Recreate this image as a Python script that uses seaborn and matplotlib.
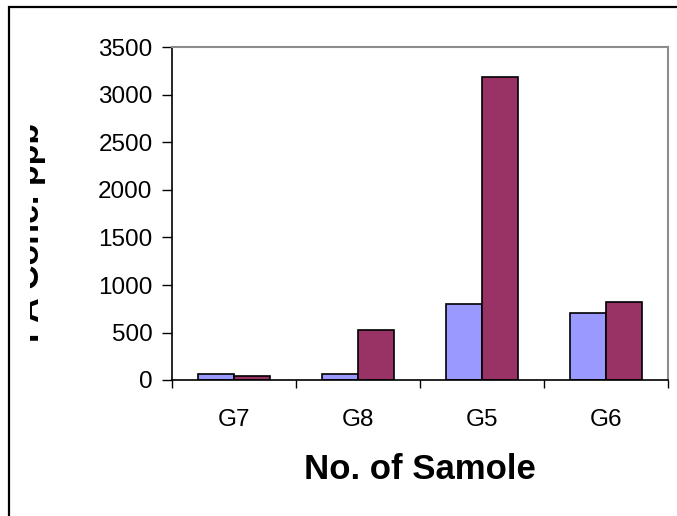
import numpy as np
import pandas as pd
import matplotlib
matplotlib.use("Agg")
import matplotlib.pyplot as plt
import seaborn as sns
from matplotlib.patches import Rectangle
from matplotlib.transforms import Bbox, TransformedBbox

# chart data
samples = ["G7", "G8", "G5", "G6"]
series_a = [65, 65, 800, 705]
series_b = [40, 530, 3190, 820]
series_names = ["Series1", "Series2"]
y_ticks = [0, 500, 1000, 1500, 2000, 2500, 3000, 3500]

df = pd.DataFrame({
    "sample": samples * 2,
    "conc": series_a + series_b,
    "series": [series_names[0]] * len(samples) + [series_names[1]] * len(samples),
})

sns.set_style("white")
plt.rcParams["font.family"] = ["Liberation Sans", "DejaVu Sans"]
plt.rcParams["text.color"] = "black"
plt.rcParams["axes.labelcolor"] = "black"
plt.rcParams["xtick.color"] = "black"
plt.rcParams["ytick.color"] = "black"

W, H = 677, 516
fig = plt.figure(figsize=(W / 100, H / 100), dpi=100)
ax = fig.add_axes([172 / W, (H - 380) / H, (668 - 172) / W, (380 - 47.5) / H])

sns.barplot(data=df, x="sample", y="conc", hue="series", order=samples,
            palette=["#9999FF", "#993366"], saturation=1, width=0.586,
            edgecolor="black", linewidth=1.2, errorbar=None, legend=False, ax=ax)

ax.set_xlim(-0.5, len(samples) - 0.5)
ax.set_ylim(0, 3500)
ax.set_yticks(y_ticks)
ax.set_xticks(range(len(samples)))
ax.set_xticklabels(samples)
ax.set_xticks(np.arange(-0.5, len(samples)), minor=True)

ax.tick_params(axis="y", which="major", direction="out", length=7, width=1,
               colors="black", labelsize=17.5, pad=7, left=True)
ax.tick_params(axis="x", which="major", length=0, labelsize=17.5, pad=21,
               colors="black")
ax.tick_params(axis="x", which="minor", direction="out", length=6, width=1,
               color="black", bottom=True)

for side in ["left", "bottom"]:
    ax.spines[side].set_color("black")
    ax.spines[side].set_linewidth(1.2)
for side in ["top", "right"]:
    ax.spines[side].set_visible(True)
    ax.spines[side].set_color("#8c8c8c")
    ax.spines[side].set_linewidth(1.5)

ax.set_xlabel("No. of Samole", fontsize=25, fontweight="bold", labelpad=16,
              color="black")
ax.set_ylabel("")

# y label, clipped on its left side as in the source
ylab = fig.text(31 / W, 1 - 232 / H, "PA Conc. ppb", rotation=90,
                ha="center", va="center", fontsize=24.5, fontweight="bold",
                color="black")
ylab.set_clip_box(TransformedBbox(Bbox([[30 / W, 0], [1, 1]]), fig.transFigure))
ylab.set_clip_on(True)

# outer chart frame (runs past the right and bottom edges)
fig.patches.append(Rectangle((9 / W, -0.05), 1.2, 1 - 7 / H + 0.05,
                             transform=fig.transFigure, fill=False,
                             edgecolor="black", linewidth=1.6))

fig.savefig("out.png", dpi=100)
plt.close(fig)
